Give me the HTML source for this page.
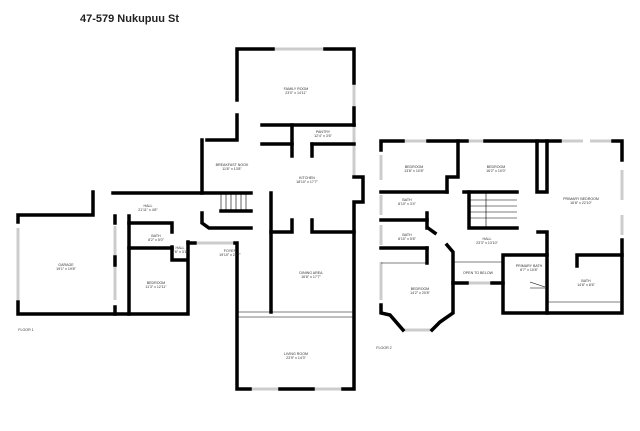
<!DOCTYPE html>
<html><head><style>
body{margin:0;background:#fff;}
svg text{font-family:"Liberation Sans",sans-serif;font-size:3.6px;fill:#333;text-anchor:middle;}
</style></head><body>
<svg width="640" height="426" viewBox="0 0 640 426" xmlns="http://www.w3.org/2000/svg">
<text x="80" y="22" style="font-size:11px;font-weight:bold;fill:#222;text-anchor:start">47-579 Nukupuu St</text>
<g stroke="#ccc" stroke-width="3" fill="none">
<!-- windows -->
<line x1="273" y1="49" x2="325" y2="49"/>
<line x1="354" y1="83" x2="354" y2="108"/>
<line x1="354" y1="125" x2="354" y2="176"/>
<line x1="207" y1="140" x2="235" y2="140"/>
<line x1="197" y1="243" x2="235" y2="243"/>
<line x1="141" y1="314" x2="171" y2="314"/>
<line x1="250" y1="389" x2="280" y2="389"/>
<line x1="313" y1="389" x2="343" y2="389"/>
<line x1="237" y1="283" x2="237" y2="389"/>
<line x1="354" y1="202" x2="354" y2="389"/>
<line x1="115" y1="226" x2="115" y2="300"/>
<line x1="18" y1="228" x2="18" y2="300"/>
<line x1="403" y1="141" x2="428" y2="141"/>
<line x1="467" y1="141" x2="485" y2="141"/>
<line x1="560" y1="141" x2="583" y2="141"/>
<line x1="590" y1="141" x2="613" y2="141"/>
<line x1="381" y1="155" x2="381" y2="180"/>
<line x1="381" y1="195" x2="381" y2="215"/>
<line x1="381" y1="225" x2="381" y2="245"/>
<line x1="381" y1="262" x2="381" y2="300"/>
<line x1="404" y1="330" x2="432" y2="330"/>
<line x1="467" y1="283" x2="492" y2="283"/>
<line x1="622" y1="170" x2="622" y2="200"/>
<line x1="622" y1="215" x2="622" y2="235"/>
</g>
<g stroke="#000" stroke-width="3.5" fill="none" stroke-linecap="square">
<!-- Floor 1 -->
<polyline points="237,100 237,49 273,49"/>
<polyline points="325,49 354,49 354,83"/>
<polyline points="354,108 354,125"/>
<polyline points="237,115 237,140 207,140"/>
<polyline points="202,140 202,193"/>
<polyline points="113,193 251,193"/>
<polyline points="93,192 93,215 18,215 18,222"/>
<polyline points="18,302 18,314 188,314 188,242"/>
<polyline points="115,216 115,223"/>
<polyline points="115,257 115,265"/>
<polyline points="115,307 115,314"/>
<polyline points="129,216 129,314"/>
<polyline points="129,223 172,223 172,232"/>
<polyline points="129,248 172,248"/>
<polyline points="172,247 172,260 187,260"/>
<line x1="188" y1="243" x2="195" y2="243"/>
<polyline points="235,243 237,243 237,389 250,389"/>
<line x1="280" y1="389" x2="313" y2="389"/>
<polyline points="343,389 354,389 354,202 363,202 363,177 354,177"/>
<line x1="262" y1="125" x2="354" y2="125"/>
<line x1="262" y1="144" x2="292" y2="144"/>
<line x1="312" y1="144" x2="354" y2="144"/>
<line x1="292" y1="125" x2="292" y2="156"/>
<line x1="312" y1="144" x2="312" y2="156"/>
<line x1="271" y1="193" x2="271" y2="312"/>
<polyline points="292,220 292,232 271,232"/>
<polyline points="312,220 312,232 354,232"/>
<line x1="221" y1="211" x2="251" y2="211"/>
<polyline points="202,213 202,223 209,228 251,228"/>
<!-- Floor 2 -->
<polyline points="381,150 381,141 403,141"/>
<line x1="428" y1="141" x2="467" y2="141"/>
<line x1="485" y1="141" x2="560" y2="141"/>
<polyline points="613,141 622,141 622,160"/>
<polyline points="622,240 622,313 503,313 503,255 547,255"/>
<polyline points="381,305 381,313 390,315 403,330"/>
<polyline points="432,330 440,322 453,313 453,252 447,245"/>
<line x1="453" y1="283" x2="467" y2="283"/>
<line x1="492" y1="283" x2="503" y2="283"/>
<line x1="381" y1="192" x2="447" y2="192"/>
<line x1="464" y1="192" x2="517" y2="192"/>
<polyline points="458,141 458,177 447,177 447,192"/>
<polyline points="537,141 537,192 547,192 547,141"/>
<line x1="381" y1="220" x2="427" y2="220"/>
<line x1="427" y1="213" x2="427" y2="228"/>
<line x1="381" y1="248" x2="427" y2="248"/>
<line x1="427" y1="248" x2="427" y2="263"/>
<line x1="428" y1="228" x2="435" y2="233"/>
<polyline points="469,192 469,228 517,228"/>
<polyline points="538,232 547,232 547,313"/>
<polyline points="577,266 577,255 622,255"/>
</g>
<g stroke="#000" stroke-width="0.6" fill="none">
<line x1="237" y1="312" x2="354" y2="312"/>
<line x1="237" y1="317" x2="354" y2="317"/>
<line x1="453" y1="262" x2="503" y2="262"/>
<line x1="547" y1="302" x2="620" y2="302"/>
<line x1="381" y1="263" x2="427" y2="263"/>
<path d="M221 193v18M226 193v18M231 193v18M236 193v18M241 193v18M246 193v18"/>
<path d="M469 200h48M469 206h48M469 212h48M469 218h48M486 192v36"/>
<path d="M530 282l15 5M530 288h15"/>
</g>
<text x="296" y="90">FAMILY ROOM</text><text x="296" y="94">23'0" x 14'11"</text>
<text x="323" y="133">PANTRY</text><text x="323" y="137">12'4" x 3'6"</text>
<text x="232" y="166">BREAKFAST NOOK</text><text x="232" y="170">11'8" x 13'8"</text>
<text x="307" y="179">KITCHEN</text><text x="307" y="183">18'10" x 17'7"</text>
<text x="148" y="207">HALL</text><text x="148" y="211">21'11" x 4'8"</text>
<text x="156" y="237">BATH</text><text x="156" y="241">8'2" x 5'0"</text>
<text x="180" y="249">HALL</text><text x="180" y="253">7'6" x 3'1"</text>
<text x="66" y="266">GARAGE</text><text x="66" y="270">19'1" x 19'8"</text>
<text x="156" y="284">BEDROOM</text><text x="156" y="288">11'3" x 12'11"</text>
<text x="230" y="252">FOYER</text><text x="230" y="256">19'10" x 24'7"</text>
<text x="311" y="274">DINING AREA</text><text x="311" y="278">16'8" x 17'7"</text>
<text x="296" y="355">LIVING ROOM</text><text x="296" y="359">23'9" x 14'3"</text>
<text x="26" y="331">FLOOR 1</text>
<text x="414" y="168">BEDROOM</text><text x="414" y="172">13'8" x 10'8"</text>
<text x="496" y="168">BEDROOM</text><text x="496" y="172">16'2" x 10'0"</text>
<text x="581" y="200">PRIMARY BEDROOM</text><text x="581" y="204">16'8" x 22'10"</text>
<text x="407" y="201">BATH</text><text x="407" y="205">8'10" x 3'4"</text>
<text x="407" y="236">BATH</text><text x="407" y="240">8'10" x 5'8"</text>
<text x="487" y="240">HALL</text><text x="487" y="244">23'3" x 13'10"</text>
<text x="478" y="274">OPEN TO BELOW</text>
<text x="529" y="267">PRIMARY BATH</text><text x="529" y="271">8'7" x 10'8"</text>
<text x="586" y="282">BATH</text><text x="586" y="286">14'8" x 8'6"</text>
<text x="420" y="290">BEDROOM</text><text x="420" y="294">14'2" x 20'8"</text>
<text x="384" y="349">FLOOR 2</text>
</svg>
</body></html>
